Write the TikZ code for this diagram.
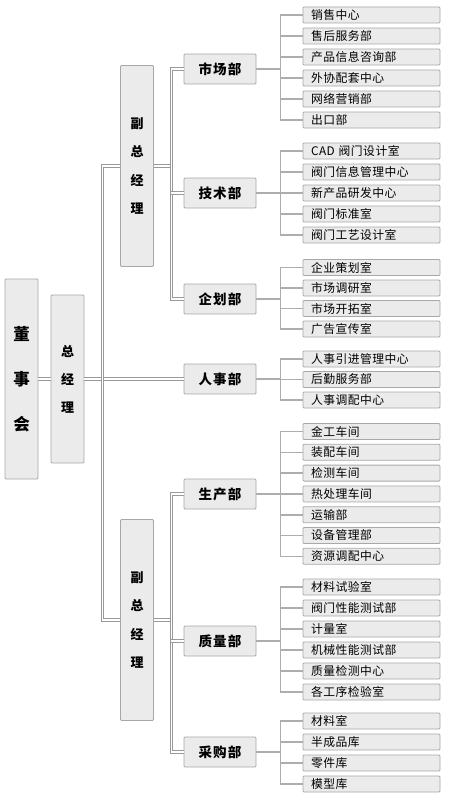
\documentclass[tikz,border=0pt]{standalone}
\usepackage{fontspec}
\setmainfont{Noto Sans CJK SC}
\newfontfamily\cjkdept[LetterSpace=8]{Noto Sans CJK SC}
\newfontfamily\cjkleaf[LetterSpace=4]{Noto Sans CJK SC}
\definecolor{boxfill}{HTML}{EBEBEB}
\definecolor{boxline}{HTML}{A8A8A8}
\definecolor{conn}{HTML}{999999}
\tikzset{
  base/.style={draw=boxline, fill=boxfill, rounded corners=1pt, inner sep=0pt, line width=0.8pt},
  vbox/.style={base, minimum width=33pt, align=center},
  deptbox/.style={base, minimum width=72pt, minimum height=30pt, font=\cjkdept\bfseries\fontsize{13.5}{14}\selectfont},
  leafbox/.style={base, minimum height=16pt, inner xsep=8pt, text width=121pt, align=left, font=\cjkleaf\fontsize{11.8}{12}\selectfont},
  dbl/.style={draw=conn, double=white, double distance=1.2pt, line width=1pt},
  sgl/.style={draw=conn!80, line width=1.6pt},
}
\begin{document}
\begin{tikzpicture}[x=1pt,y=-1pt]
\useasboundingbox (0,0) rectangle (450,800);
% top levels
\node[vbox, minimum height=200pt, font=\bfseries\fontsize{16.5}{45}\selectfont] (ds) at (21.5,379) {董\\事\\会};
\node[vbox, minimum height=168pt, font=\bfseries\fontsize{13}{28}\selectfont] (zjl) at (67.5,379) {总\\经\\理};
\node[vbox, minimum height=201pt, font=\bfseries\fontsize{13}{28.5}\selectfont] (fz1) at (137,166) {副\\总\\经\\理};
\node[vbox, minimum height=201pt, font=\bfseries\fontsize{13}{28.5}\selectfont] (fz2) at (137,620) {副\\总\\经\\理};
% departments
\node[deptbox] (scb) at (220,69) {市场部};
\node[deptbox] (jsb) at (220,193) {技术部};
\node[deptbox] (qhb) at (220,299) {企划部};
\node[deptbox] (rsb) at (220,379) {人事部};
\node[deptbox] (scb2) at (220,494) {生产部};
\node[deptbox] (zlb) at (220,641) {质量部};
\node[deptbox] (cgb) at (220,752) {采购部};
% leaves: 市场部
\node[leafbox] (a1) at (371.5,15) {销售中心};
\node[leafbox] (a2) at (371.5,36) {售后服务部};
\node[leafbox] (a3) at (371.5,57) {产品信息咨询部};
\node[leafbox] (a4) at (371.5,78) {外协配套中心};
\node[leafbox] (a5) at (371.5,99) {网络营销部};
\node[leafbox] (a6) at (371.5,120) {出口部};
% 技术部
\node[leafbox] (b1) at (371.5,151) {CAD 阀门设计室};
\node[leafbox] (b2) at (371.5,172) {阀门信息管理中心};
\node[leafbox] (b3) at (371.5,193) {新产品研发中心};
\node[leafbox] (b4) at (371.5,214) {阀门标准室};
\node[leafbox] (b5) at (371.5,235) {阀门工艺设计室};
% 企划部
\node[leafbox] (c1) at (371.5,267.5) {企业策划室};
\node[leafbox] (c2) at (371.5,288) {市场调研室};
\node[leafbox] (c3) at (371.5,308.5) {市场开拓室};
\node[leafbox] (c4) at (371.5,329) {广告宣传室};
% 人事部
\node[leafbox] (d1) at (371.5,359) {人事引进管理中心};
\node[leafbox] (d2) at (371.5,379.5) {后勤服务部};
\node[leafbox] (d3) at (371.5,400) {人事调配中心};
% 生产部
\node[leafbox] (e1) at (371.5,431.5) {金工车间};
\node[leafbox] (e2) at (371.5,452.3) {装配车间};
\node[leafbox] (e3) at (371.5,473.1) {检测车间};
\node[leafbox] (e4) at (371.5,493.9) {热处理车间};
\node[leafbox] (e5) at (371.5,514.7) {运输部};
\node[leafbox] (e6) at (371.5,535.5) {设备管理部};
\node[leafbox] (e7) at (371.5,556.3) {资源调配中心};
% 质量部
\node[leafbox] (f1) at (371.5,587) {材料试验室};
\node[leafbox] (f2) at (371.5,608) {阀门性能测试部};
\node[leafbox] (f3) at (371.5,629) {计量室};
\node[leafbox] (f4) at (371.5,650) {机械性能测试部};
\node[leafbox] (f5) at (371.5,671) {质量检测中心};
\node[leafbox] (f6) at (371.5,692) {各工序检验室};
% 采购部
\node[leafbox] (g1) at (371.5,721) {材料室};
\node[leafbox] (g2) at (371.5,742) {半成品库};
\node[leafbox] (g3) at (371.5,763) {零件库};
\node[leafbox] (g4) at (371.5,784) {模型库};
% upper connectors
\draw[dbl] (ds.east) -- (zjl.west);
\draw[dbl] (zjl.east) -- (rsb.west);
\draw[dbl] (fz1.west) -- ++(-17.5,0) |- (fz2.west);
\draw[dbl] (fz1.east) -- ++(17.5,0);
\draw[dbl] (scb.west) -- ++(-12.5,0) |- (qhb.west);
\draw[dbl] (jsb.west) -- ++(-12.5,0);
\draw[dbl] (fz2.east) -- ++(17.5,0);
\draw[dbl] (scb2.west) -- ++(-12.5,0) |- (cgb.west);
\draw[dbl] (zlb.west) -- ++(-12.5,0);
% dept to leaves
\foreach \d in {scb,jsb,qhb,rsb,scb2,zlb,cgb} {\draw[sgl] (\d.east) -- ++(25,0);}
\draw[sgl] (a1.west) -- ++(-22,0) |- (a6.west);
\foreach \n in {a2,a3,a4,a5} {\draw[sgl] (\n.west) -- ++(-22,0);}
\draw[sgl] (b1.west) -- ++(-22,0) |- (b5.west);
\foreach \n in {b2,b3,b4} {\draw[sgl] (\n.west) -- ++(-22,0);}
\draw[sgl] (c1.west) -- ++(-22,0) |- (c4.west);
\foreach \n in {c2,c3} {\draw[sgl] (\n.west) -- ++(-22,0);}
\draw[sgl] (d1.west) -- ++(-22,0) |- (d3.west);
\draw[sgl] (d2.west) -- ++(-22,0);
\draw[sgl] (e1.west) -- ++(-22,0) |- (e7.west);
\foreach \n in {e2,e3,e4,e5,e6} {\draw[sgl] (\n.west) -- ++(-22,0);}
\draw[sgl] (f1.west) -- ++(-22,0) |- (f6.west);
\foreach \n in {f2,f3,f4,f5} {\draw[sgl] (\n.west) -- ++(-22,0);}
\draw[sgl] (g1.west) -- ++(-22,0) |- (g4.west);
\foreach \n in {g2,g3} {\draw[sgl] (\n.west) -- ++(-22,0);}
\end{tikzpicture}
\end{document}
